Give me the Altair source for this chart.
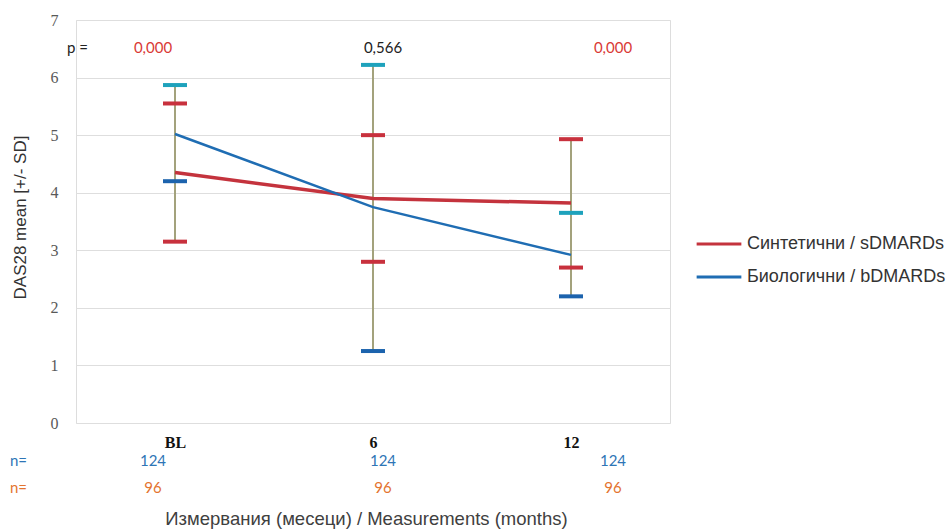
import altair as alt
import pandas as pd

# ---- data ----
months = ["BL", "6", "12"]
s_mean = [4.35, 3.90, 3.82]     # Синтетични / sDMARDs
s_upper = [5.55, 5.00, 4.93]
s_lower = [3.15, 2.80, 2.70]
b_mean = [5.02, 3.75, 2.92]     # Биологични / bDMARDs
b_upper = [5.87, 6.22, 3.65]
b_lower = [4.20, 1.25, 2.20]
p_values = ["0,000", "0,566", "0,000"]
p_significant = [True, False, True]
n_row1 = ["124", "124", "124"]
n_row2 = ["96", "96", "96"]
series_names = ["Синтетични / sDMARDs", "Биологични / bDMARDs"]

# ---- tables ----
lines_df = pd.DataFrame(
    {"month": months * 2,
     "value": s_mean + b_mean,
     "series": [series_names[0]] * 3 + [series_names[1]] * 3}
)
cap_kinds = ["s_up", "s_lo", "b_up", "b_lo"]
caps_df = pd.DataFrame(
    {"month": months * 4,
     "value": s_upper + s_lower + b_upper + b_lower,
     "kind": sum([[k] * 3 for k in cap_kinds], [])}
)
rule_df = pd.DataFrame(
    {"month": months,
     "lo": [min(a, b, c, d) for a, b, c, d in zip(s_upper, s_lower, b_upper, b_lower)],
     "hi": [max(a, b, c, d) for a, b, c, d in zip(s_upper, s_lower, b_upper, b_lower)]}
)
p_df = pd.DataFrame({"month": months, "p": p_values, "sig": p_significant})
n1_df = pd.DataFrame({"month": months, "n": n_row1})
n2_df = pd.DataFrame({"month": months, "n": n_row2})

W, H = 594, 403
SANS = "Liberation Sans"
NUMF = "Lato"

x_main = alt.X(
    "month:N", sort=months,
    scale=alt.Scale(type="point", padding=0.5),
    axis=alt.Axis(
        title="Измервания (месеци) / Measurements (months)",
        titleFont=SANS, titleFontSize=18.5, titleFontWeight="normal", titleColor="#404040",
        titleX=290, titleY=95, titleBaseline="middle", titleAlign="center",
        labelFont="Liberation Serif", labelFontSize=16, labelFontWeight="bold",
        labelColor="#111111", labelPadding=11, labelAngle=0,
        domain=False, ticks=False, grid=False,
    ),
)
y_scale = alt.Scale(domain=[0, 7], nice=False, zero=True)
y_axis = alt.Axis(
    values=[0, 1, 2, 3, 4, 5, 6, 7], format="d",
    title="DAS28 mean [+/- SD]",
    titleFont=SANS, titleFontSize=17, titleFontWeight="normal", titleColor="#333333",
    titleX=-56, titleY=197, titleAngle=-90, titleBaseline="middle", titleAlign="center",
    labelFont="Liberation Serif", labelFontSize=16, labelColor="#595959", labelPadding=18,
    domain=False, ticks=False, grid=True, gridColor="#dedede", gridWidth=1,
)

rule = alt.Chart(rule_df).mark_rule(color="#a3a27c", strokeWidth=2).encode(
    x=x_main,
    y=alt.Y("lo:Q", scale=y_scale, axis=y_axis),
    y2="hi:Q",
)

line = alt.Chart(lines_df).mark_line(strokeCap="butt").encode(
    x=alt.X("month:N", sort=months),
    y=alt.Y("value:Q"),
    color=alt.Color(
        "series:N", sort=series_names,
        scale=alt.Scale(domain=series_names, range=["#c4333d", "#1f6db3"]),
        legend=alt.Legend(
            title=None, orient="none", legendX=619, legendY=200,
            symbolType="stroke", symbolSize=2000, symbolStrokeWidth=3,
            labelFont=SANS, labelFontSize=18, labelColor="#333333",
            labelOffset=4, rowPadding=-15, labelLimit=400,
        ),
    ),
    strokeWidth=alt.StrokeWidth(
        "series:N", scale=alt.Scale(domain=series_names, range=[3.5, 2.5]), legend=None
    ),
)

caps = alt.Chart(caps_df).mark_tick(thickness=4, size=24, opacity=1).encode(
    x=alt.X("month:N", sort=months),
    y=alt.Y("value:Q"),
    color=alt.Color(
        "kind:N",
        scale=alt.Scale(domain=cap_kinds, range=["#c8313d", "#c8313d", "#1ea2bc", "#1c63ad"]),
        legend=None,
    ),
)

main = alt.layer(rule, line, caps).resolve_scale(color="independent")

x_text = alt.X("month:N", sort=months,
               scale=alt.Scale(type="point", range=[77, 537], padding=0), axis=None)

p_text = alt.Chart(p_df).mark_text(font=NUMF, fontSize=15, baseline="middle").encode(
    x=x_text, y=alt.value(28), text="p:N",
    color=alt.condition("datum.sig", alt.value("#d93a35"), alt.value("#222222")),
)
p_label = alt.Chart(p_df.head(1)).mark_text(
    font=NUMF, fontSize=15, baseline="middle", align="left", color="#222222"
).encode(x=alt.value(-9), y=alt.value(28), text=alt.value("p ="))

n1_text = alt.Chart(n1_df).mark_text(font=NUMF, fontSize=15, baseline="middle",
                                     color="#2e75b6").encode(
    x=x_text, y=alt.value(441), text="n:N")
n2_text = alt.Chart(n2_df).mark_text(font=NUMF, fontSize=15, baseline="middle",
                                     color="#e4742f").encode(
    x=x_text, y=alt.value(468), text="n:N")
n1_label = alt.Chart(n1_df.head(1)).mark_text(
    font=NUMF, fontSize=15, baseline="middle", align="left", color="#2e75b6"
).encode(x=alt.value(-66), y=alt.value(441), text=alt.value("n="))
n2_label = alt.Chart(n2_df.head(1)).mark_text(
    font=NUMF, fontSize=15, baseline="middle", align="left", color="#e4742f"
).encode(x=alt.value(-66), y=alt.value(468), text=alt.value("n="))

chart = alt.layer(
    main, p_text, p_label, n1_text, n2_text, n1_label, n2_label
).resolve_scale(x="independent").properties(
    width=W, height=H,
    autosize=alt.AutoSizeParams(type="none"),
    padding={"left": 76, "top": 20, "right": 949 - 76 - W, "bottom": 529 - 20 - H},
).configure_view(stroke=None).configure(background="white")

chart.save("out.html", embed_options={"renderer": "svg", "actions": False})
